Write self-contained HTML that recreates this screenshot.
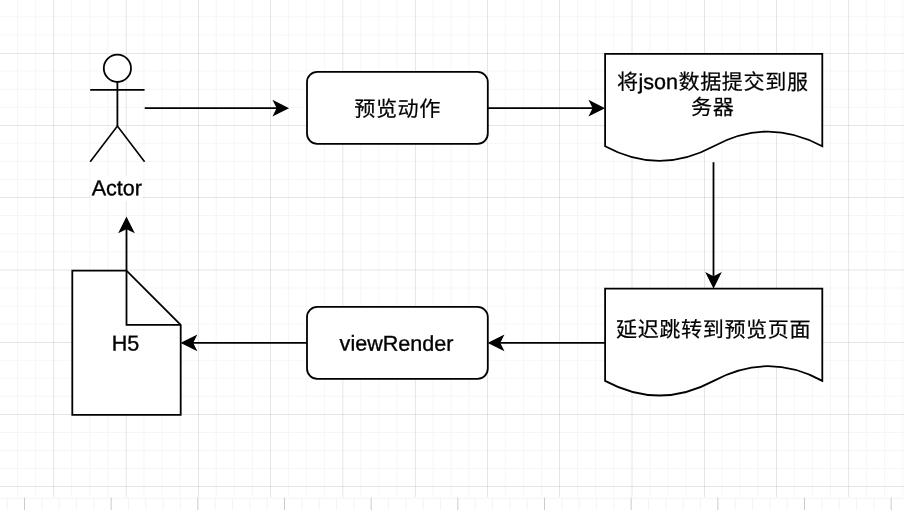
<!DOCTYPE html>
<html lang="zh-CN">
<head>
<meta charset="utf-8">
<title>预览流程</title>
<style>
html,body{margin:0;padding:0;background:#fff;overflow:hidden}
body{width:904px;height:510px}
svg{display:block;will-change:transform}
text.l{stroke:#000;stroke-width:0.35px}
text.c{stroke:#000;stroke-width:0.2px}
text{font-family:"Liberation Sans","Noto Sans CJK SC",sans-serif;font-size:21.55px;fill:#000;font-weight:400}
</style>
</head>
<body>
<svg width="904" height="510" viewBox="0 0 904 510">
<path d="M16.97 0h1V497.0h-1zM35.03 0h1V497.0h-1zM71.17 0h1V497.0h-1zM89.23 0h1V497.0h-1zM107.30 0h1V497.0h-1zM143.44 0h1V497.0h-1zM161.50 0h1V497.0h-1zM179.57 0h1V497.0h-1zM215.71 0h1V497.0h-1zM233.77 0h1V497.0h-1zM251.84 0h1V497.0h-1zM287.98 0h1V497.0h-1zM306.05 0h1V497.0h-1zM324.11 0h1V497.0h-1zM360.25 0h1V497.0h-1zM378.31 0h1V497.0h-1zM396.38 0h1V497.0h-1zM432.52 0h1V497.0h-1zM450.58 0h1V497.0h-1zM468.65 0h1V497.0h-1zM504.79 0h1V497.0h-1zM522.86 0h1V497.0h-1zM540.92 0h1V497.0h-1zM577.06 0h1V497.0h-1zM595.12 0h1V497.0h-1zM613.19 0h1V497.0h-1zM649.33 0h1V497.0h-1zM667.39 0h1V497.0h-1zM685.46 0h1V497.0h-1zM721.60 0h1V497.0h-1zM739.66 0h1V497.0h-1zM757.73 0h1V497.0h-1zM793.87 0h1V497.0h-1zM811.93 0h1V497.0h-1zM830.00 0h1V497.0h-1zM866.14 0h1V497.0h-1zM884.20 0h1V497.0h-1zM902.27 0h1V497.0h-1zM0 16.37h904v1H0zM0 34.43h904v1H0zM0 70.57h904v1H0zM0 88.63h904v1H0zM0 106.70h904v1H0zM0 142.84h904v1H0zM0 160.91h904v1H0zM0 178.97h904v1H0zM0 215.11h904v1H0zM0 233.17h904v1H0zM0 251.24h904v1H0zM0 287.38h904v1H0zM0 305.44h904v1H0zM0 323.51h904v1H0zM0 359.65h904v1H0zM0 377.71h904v1H0zM0 395.78h904v1H0zM0 431.92h904v1H0zM0 449.98h904v1H0zM0 468.05h904v1H0z" fill="#d0d0d0" fill-opacity="0.2"/>
<path d="M53.60 0h.5V497.0h-.5zM125.87 0h.5V497.0h-.5zM198.14 0h.5V497.0h-.5zM270.41 0h.5V497.0h-.5zM342.68 0h.5V497.0h-.5zM414.95 0h.5V497.0h-.5zM487.22 0h.5V497.0h-.5zM559.49 0h.5V497.0h-.5zM631.76 0h.5V497.0h-.5zM704.03 0h.5V497.0h-.5zM776.30 0h.5V497.0h-.5zM848.57 0h.5V497.0h-.5zM0 53.00h904v.5H0zM0 125.27h904v.5H0zM0 197.54h904v.5H0zM0 269.81h904v.5H0zM0 342.08h904v.5H0zM0 414.35h904v.5H0zM0 486.62h904v.5H0z" fill="#cccccc"/>
<path d="M-10.17 497.5V510 M7.17 497.5V510 M41.83 497.5V510 M59.17 497.5V510 M76.50 497.5V510 M93.83 497.5V510 M128.50 497.5V510 M145.83 497.5V510 M163.17 497.5V510 M180.50 497.5V510 M215.17 497.5V510 M232.50 497.5V510 M249.83 497.5V510 M267.17 497.5V510 M301.83 497.5V510 M319.17 497.5V510 M336.50 497.5V510 M353.83 497.5V510 M388.50 497.5V510 M405.83 497.5V510 M423.17 497.5V510 M440.50 497.5V510 M475.17 497.5V510 M492.50 497.5V510 M509.84 497.5V510 M527.17 497.5V510 M561.84 497.5V510 M579.17 497.5V510 M596.50 497.5V510 M613.84 497.5V510 M648.50 497.5V510 M665.84 497.5V510 M683.17 497.5V510 M700.50 497.5V510 M735.17 497.5V510 M752.50 497.5V510 M769.84 497.5V510 M787.17 497.5V510 M821.84 497.5V510 M839.17 497.5V510 M856.50 497.5V510 M873.84 497.5V510 M0 498.3H904" fill="none" stroke="#f4f4f4" stroke-width="1"/>
<path d="M24.50 497.5V510 M111.17 497.5V510 M197.83 497.5V510 M284.50 497.5V510 M371.17 497.5V510 M457.84 497.5V510 M544.50 497.5V510 M631.17 497.5V510 M717.84 497.5V510 M804.50 497.5V510 M891.17 497.5V510" fill="none" stroke="#cccccc" stroke-width="1"/>
<path d="M144.70 108.20 L277.61 108.20" fill="none" stroke="#000" stroke-width="1.8"/>
<path d="M287.09 108.20 L274.45 114.52 L277.61 108.20 L274.45 101.88 Z" fill="#000" stroke="#000" stroke-width="1.8" stroke-miterlimit="10"/>

<path d="M487.80 108.20 L593.61 108.20" fill="none" stroke="#000" stroke-width="1.8"/>
<path d="M603.09 108.20 L590.45 114.52 L593.61 108.20 L590.45 101.88 Z" fill="#000" stroke="#000" stroke-width="1.8" stroke-miterlimit="10"/>

<path d="M713.50 162.20 L713.50 277.21" fill="none" stroke="#000" stroke-width="1.8"/>
<path d="M713.50 286.69 L707.18 274.05 L713.50 277.21 L719.82 274.05 Z" fill="#000" stroke="#000" stroke-width="1.8" stroke-miterlimit="10"/>

<path d="M605.10 342.90 L499.29 342.90" fill="none" stroke="#000" stroke-width="1.8"/>
<path d="M489.81 342.90 L502.45 336.58 L499.29 342.90 L502.45 349.22 Z" fill="#000" stroke="#000" stroke-width="1.8" stroke-miterlimit="10"/>

<path d="M307.00 342.90 L192.19 342.90" fill="none" stroke="#000" stroke-width="1.8"/>
<path d="M182.71 342.90 L195.35 336.58 L192.19 342.90 L195.35 349.22 Z" fill="#000" stroke="#000" stroke-width="1.8" stroke-miterlimit="10"/>

<path d="M126.50 270.70 L126.50 228.09" fill="none" stroke="#000" stroke-width="1.8"/>
<path d="M126.50 218.61 L132.82 231.25 L126.50 228.09 L120.18 231.25 Z" fill="#000" stroke="#000" stroke-width="1.8" stroke-miterlimit="10"/>

<ellipse cx="117.40" cy="68.30" rx="13.60" ry="13.70" fill="#fff" stroke="#000" stroke-width="1.8"/>
<path d="M117.40 82.00 L117.40 126.07 M90.20 89.90 L144.60 89.90" fill="none" stroke="#000" stroke-width="1.8" stroke-miterlimit="10"/>
<path d="M90.20 161.80 L117.40 126.07 L144.60 161.80" fill="none" stroke="#000" stroke-width="1.65" stroke-miterlimit="10"/>

<rect x="307.00" y="71.80" width="180.80" height="72.00" rx="10.30" ry="10.30" fill="#fff" stroke="#000" stroke-width="1.8"/>

<path d="M605.10 53.90 L822.30 53.90 L822.30 146.21 Q768.00 116.89 713.70 146.21 Q659.40 175.53 605.10 146.21 Z" fill="#fff" stroke="#000" stroke-width="1.8" stroke-miterlimit="10"/>

<path d="M605.10 288.70 L822.30 288.70 L822.30 380.84 Q768.00 351.57 713.70 380.84 Q659.40 410.11 605.10 380.84 Z" fill="#fff" stroke="#000" stroke-width="1.8" stroke-miterlimit="10"/>

<rect x="307.00" y="306.80" width="180.80" height="72.10" rx="10.30" ry="10.30" fill="#fff" stroke="#000" stroke-width="1.8"/>

<path d="M72.30 270.70 L126.50 270.70 L180.70 324.90 L180.70 414.80 L72.30 414.80 Z" fill="#fff" stroke="#000" stroke-width="1.8" stroke-miterlimit="10"/>
<path d="M126.50 270.70 L126.50 324.90 L180.70 324.90" fill="none" stroke="#000" stroke-width="1.8" stroke-miterlimit="10"/>

<rect x="91.3" y="175.7" width="50.9" height="25.3" fill="#fff"/>
<text class="l" x="116.80" y="195.20" text-anchor="middle" transform="matrix(1 0.002 0 1 0 -0.234)">Actor</text>

<text class="c" x="354.20" y="116.30" transform="matrix(1 0.002 0 1.0 0 -0.795)" style="font-size:21.1px;letter-spacing:0.60px">预览动作</text>

<text class="c" x="616.95" y="89.30" transform="matrix(1 0.002 0 1.0 0 -1.255)" style="font-size:21.1px;letter-spacing:0.60px">将</text>

<text class="l" x="658.25" y="89.10" text-anchor="middle" transform="matrix(1 0.002 0 1 0 -1.317)">json</text>

<text class="c" x="678.45" y="89.30" transform="matrix(1 0.002 0 1.0 0 -1.486)" style="font-size:21.1px;letter-spacing:0.60px">数据提交到服</text>

<text class="c" x="691.10" y="114.50" transform="matrix(1 0.002 0 1.0 0 -1.425)" style="font-size:21.1px;letter-spacing:0.60px">务器</text>

<text class="c" x="615.95" y="336.90" transform="matrix(1 0.002 0 1.0 0 -1.427)" style="font-size:21.1px;letter-spacing:0.60px">延迟跳转到预览页面</text>

<text class="l" x="396.50" y="350.70" text-anchor="middle" transform="matrix(1 0.002 0 1 0 -0.793)">viewRender</text>

<text class="l" x="125.60" y="350.50" text-anchor="middle" transform="matrix(1 0.002 0 1 0 -0.251)">H5</text>

</svg>
</body>
</html>
